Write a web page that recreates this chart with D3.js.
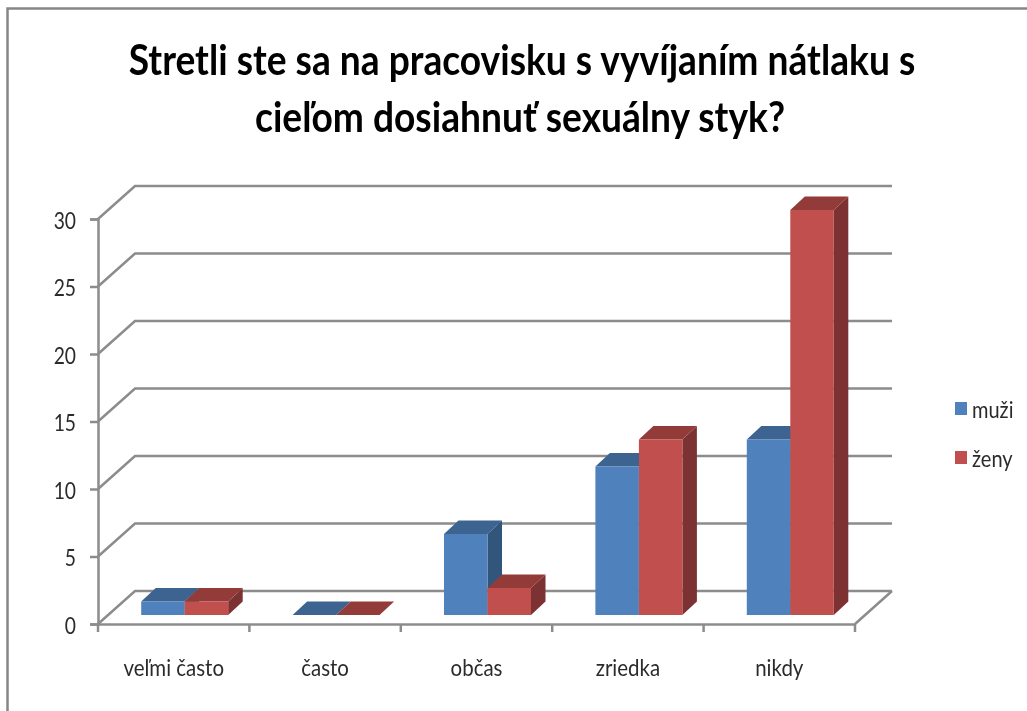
<!DOCTYPE html>
<html>
<head>
<meta charset="utf-8">
<script src="https://cdn.jsdelivr.net/npm/d3@7"></script>
<style>
  html, body { margin: 0; padding: 0; background: #fff; }
  svg { display: block; }
  text { font-family: Lato, "Open Sans", sans-serif; }
</style>
</head>
<body>
<div id="chart"></div>
<script>
const titleLines = ["Stretli ste sa na pracovisku s vyvíjaním nátlaku s", "cieľom dosiahnuť sexuálny styk?"];
const categories = ["veľmi často", "často", "občas", "zriedka", "nikdy"];
const seriesNames = ["muži", "ženy"];
const muzi = [1, 0, 6, 11, 13];
const zeny = [1, 0, 2, 13, 30];
const yTicks = [0, 5, 10, 15, 20, 25, 30];

const colors = {
  muži: { front: "#4f81bd", top: "#3c6391", side: "#30547c" },
  ženy: { front: "#c0504d", top: "#933b39", side: "#7c3230" }
};
const gridColor = "#8c8c8c";
const textColor = "#2b2b2b";

// floor depth of the fake 3d box, and the smaller depth of a bar
const depthX = 37, depthY = 33;
const barDepthX = 14.5, barDepthY = 13.5;
const barShiftX = 11, barShiftY = 9;

const width = 1027, height = 711;
const svg = d3.select("#chart").append("svg").attr("width", width).attr("height", height);

const defs = svg.append("defs");
defs.append("filter").attr("id", "soft")
  .attr("x", "-2%").attr("y", "-2%").attr("width", "104%").attr("height", "104%")
  .append("feGaussianBlur").attr("stdDeviation", 0.6);

const root = svg.append("g").attr("filter", "url(#soft)");

// the original is an image stretched upward, so the text gets squeezed sideways
const squeeze = (sel, k) => {
  sel.each(function () {
    d3.select(this)
      .attr("textLength", this.getComputedTextLength() * k)
      .attr("lengthAdjust", "spacingAndGlyphs");
  });
};

// frame, open on the right and at the bottom like the cropped original
root.append("path")
  .attr("d", d3.line()([[7.5, height], [7.5, 8.5], [width, 8.5]]))
  .attr("fill", "none").attr("stroke", "#868686").attr("stroke-width", 2.5);

const x = d3.scaleBand().domain(categories).range([98, 855]);
const y = d3.scaleLinear().domain([0, 30]).range([624, 219]);
const xSeries = d3.scaleBand().domain(seriesNames).range([0, x.bandwidth()]).paddingOuter(0.74).paddingInner(0);

// back wall and side wall gridlines
const gridG = root.append("g").attr("fill", "none").attr("stroke", gridColor).attr("stroke-width", 2.5);
gridG.selectAll("path.grid").data(yTicks).join("path").attr("class", "grid")
  .attr("d", (d) => d3.line()([
    [x.range()[0], y(d)],
    [x.range()[0] + depthX, y(d) - depthY],
    [x.range()[1] + depthX, y(d) - depthY]
  ]));
gridG.append("path")
  .attr("d", d3.line()([
    [x.range()[1], y(0)],
    [x.range()[1] + depthX, y(0) - depthY]
  ]));

// axes
const yAxis = root.append("g").attr("transform", `translate(${x.range()[0]},0)`)
  .call(d3.axisLeft(y).tickValues(yTicks).tickSize(8).tickPadding(14));
const xAxis = root.append("g").attr("transform", `translate(0,${y(0)})`)
  .call(d3.axisBottom(x).tickSize(0).tickPadding(36));
[yAxis, xAxis].forEach((a) => {
  a.select(".domain").attr("stroke", gridColor).attr("stroke-width", 2.5);
  a.selectAll("line").attr("stroke", gridColor).attr("stroke-width", 2.5);
});
yAxis.selectAll("text").attr("font-size", 23.5).attr("fill", textColor).attr("font-family", "Lato")
  .attr("dy", "0.4em").call(squeeze, 0.82);
xAxis.selectAll("text").attr("font-size", 23).attr("fill", textColor).attr("font-family", "Lato").call(squeeze, 0.89);

// category separators hang under the floor edge
xAxis.selectAll("line.sep")
  .data(categories.map((c) => x(c)).concat(x.range()[1]))
  .join("line").attr("class", "sep")
  .attr("x1", (d) => d).attr("x2", (d) => d)
  .attr("y1", 0).attr("y2", 8)
  .attr("stroke", gridColor).attr("stroke-width", 2.5);

// bars, left to right so the nearer faces cover what is behind them
const rows = categories.flatMap((c, i) => [
  { cat: c, name: seriesNames[0], value: muzi[i] },
  { cat: c, name: seriesNames[1], value: zeny[i] }
]);

const barX = (d) => x(d.cat) + xSeries(d.name) + barShiftX;
const barTop = (d) => y(d.value) - barShiftY;
const barBase = () => y(0) - barShiftY;
const bw = xSeries.bandwidth();

const bar = root.append("g").selectAll("g").data(rows).join("g");

bar.append("path").attr("fill", (d) => colors[d.name].side)
  .attr("d", (d) => d3.line()([
    [barX(d) + bw, barBase()],
    [barX(d) + bw + barDepthX, barBase() - barDepthY],
    [barX(d) + bw + barDepthX, barTop(d) - barDepthY],
    [barX(d) + bw, barTop(d)]
  ]) + "Z");

bar.append("path").attr("fill", (d) => colors[d.name].top)
  .attr("d", (d) => d3.line()([
    [barX(d), barTop(d)],
    [barX(d) + barDepthX, barTop(d) - barDepthY],
    [barX(d) + bw + barDepthX, barTop(d) - barDepthY],
    [barX(d) + bw, barTop(d)]
  ]) + "Z");

bar.append("rect").attr("fill", (d) => colors[d.name].front)
  .attr("x", barX).attr("y", barTop)
  .attr("width", bw).attr("height", (d) => barBase() - barTop(d));

// title
root.append("g").selectAll("text").data(titleLines).join("text")
  .attr("x", (d, i) => 522 - i * 2).attr("y", (d, i) => 75 + i * 57)
  .attr("text-anchor", "middle")
  .attr("font-size", 42).attr("font-weight", 700).attr("fill", "#000")
  .text((d) => d)
  .call(squeeze, 0.885);

// legend
const legend = root.append("g").selectAll("g").data(seriesNames).join("g")
  .attr("transform", (d, i) => `translate(955,${402 + i * 49})`);
legend.append("rect").attr("width", 12).attr("height", 13).attr("fill", (d) => colors[d].front);
legend.append("text").attr("x", 17).attr("y", 16).attr("font-size", 23).attr("fill", textColor)
  .text((d) => d).call(squeeze, 0.87);
</script>
</body>
</html>
